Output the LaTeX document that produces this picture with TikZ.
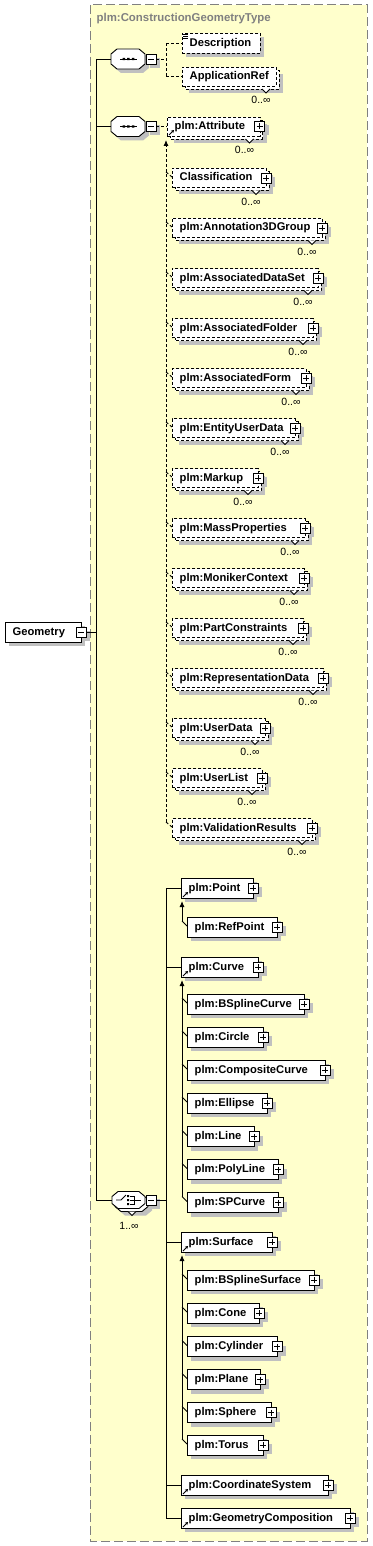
\documentclass[tikz,border=0pt]{standalone}
\usepackage{fontspec}
\setmainfont{Liberation Sans}
\usetikzlibrary{arrows.meta}
\definecolor{bgY}{RGB}{255,255,204}
\definecolor{shdG}{RGB}{192,192,192}
\definecolor{frG}{RGB}{128,128,128}
\pgfdeclarelayer{frame}
\pgfdeclarelayer{shadow}
\pgfdeclarelayer{lines}
\pgfsetlayers{frame,shadow,lines,main}
\tikzset{
 ebox/.style={draw=black, fill=white, line width=0.9pt, inner sep=0pt, minimum height=20pt},
 edash/.style={dash pattern=on 3pt off 2pt},
 esolid/.style={solid},
 etext/.style={font=\bfseries\fontsize{11.2}{12}\selectfont, inner sep=0pt, text height=8.5pt, text depth=2.5pt},
 mult/.style={font=\fontsize{10.5}{11}\selectfont, inner sep=0pt},
 pbox/.style={draw=black, fill=white, line width=0.8pt, minimum size=10pt, inner sep=0pt},
 conn/.style={line width=0.9pt},
 dconn/.style={line width=0.9pt, dash pattern=on 3pt off 2pt},
 subarr/.style={-{Latex[length=6pt,width=5pt]}},
}
% single element box
\newcommand{\elemS}[6]{%
 \begin{pgfonlayer}{shadow}\fill[shdG] (#2+4,#3-6) rectangle (#4+4,#3+14);\end{pgfonlayer}
 \node[ebox,#6,minimum width={#4-#2},anchor=west] (#1) at (#2,#3) {};
 \node[etext,anchor=west] (#1-t) at (#2+7.5,#3) {#5};}
% stacked (0..inf) dashed element box
\newcommand{\elemM}[5]{%
 \begin{pgfonlayer}{shadow}\fill[shdG] (#2+7,#3-2.5) rectangle (#4+7,#3+16.5);\end{pgfonlayer}
 \draw[edash, line width=0.9pt, fill=white] (#2+3,#3-6.5) rectangle (#4+3,#3+12.5);
 \node[ebox,edash,minimum width={#4-#2},minimum height=19pt,anchor=west] (#1) at (#2,#3) {};
 \node[etext,anchor=west] (#1-t) at (#2+7.5,#3) {#5};
 \draw[line width=0.8pt, fill=white] (#4-14,#3+12.5) -- (#4-10,#3+16.5) -- (#4-6,#3+12.5);
 \node[mult] (#1-m) at (#4-15,#3+23.5) {0..∞};}
\newcommand{\plusb}[3]{%
 \begin{pgfonlayer}{shadow}\fill[shdG] (#2-1,#3-1) rectangle (#2+9,#3+9);\end{pgfonlayer}
 \node[pbox] (#1) at (#2,#3) {};
 \draw[line width=0.8pt] (#2-3,#3) -- (#2+3,#3) (#2,#3-3) -- (#2,#3+3);}
\newcommand{\minusb}[3]{%
 \begin{pgfonlayer}{shadow}\fill[shdG] (#2-1,#3-1) rectangle (#2+9,#3+9);\end{pgfonlayer}
 \node[pbox] (#1) at (#2,#3) {};
 \draw[line width=0.8pt] (#2-3,#3) -- (#2+3,#3);}
\newcommand{\refm}[2]{%
 \draw[line width=1pt,-{Stealth[length=3pt,width=3.5pt]}] (#1+2,#2-1) -- (#1+7,#2-6);}
\newcommand{\octP}[5]{\path[#5] (#1,#2-#4/2+5) -- (#1+6,#2-#4/2) -- (#1+#3-6,#2-#4/2) -- (#1+#3,#2-#4/2+5) -- (#1+#3,#2+#4/2-5) -- (#1+#3-6,#2+#4/2) -- (#1+6,#2+#4/2) -- (#1,#2+#4/2-5) -- cycle;}
\newcommand{\seqn}[3]{%
 \begin{pgfonlayer}{shadow}\octP{#2+4}{#3+4}{34}{20}{fill=shdG}\end{pgfonlayer}
 \octP{#2}{#3}{34}{20}{draw,fill=white,line width=0.9pt}
 \node[inner sep=0pt,minimum width=34pt,minimum height=20pt] (#1) at (#2+17,#3) {};
 \draw[line width=0.9pt] (#2+9,#3) -- (#2+26,#3);
 \fill (#2+11.5,#3-1.2) rectangle +(2.5,2.4) (#2+16.2,#3-1.2) rectangle +(2.5,2.4) (#2+20.9,#3-1.2) rectangle +(2.5,2.4);
 \minusb{#1-m}{#2+40}{#3}}
\begin{document}
\begin{tikzpicture}[x=1pt,y=-1pt]
\useasboundingbox (0,0) rectangle (372,1546);
\begin{pgfonlayer}{frame}
\draw[frG, dash pattern=on 9pt off 4pt, fill=bgY, line width=1pt] (90,5) rectangle (367,1541);
\end{pgfonlayer}
\node[font=\bfseries\fontsize{11.4}{12}\selectfont, text=frG, anchor=west, inner sep=0pt] (title) at (96.5,19) {plm:ConstructionGeometryType};

% root
\elemS{geo}{5}{632}{81}{Geometry}{esolid}
\minusb{geo-m}{81}{632}

% sequences
\seqn{seq1}{111}{59}
\seqn{seq2}{111}{126.5}

% choice
\begin{pgfonlayer}{shadow}\octP{119}{1207}{33}{17}{fill=shdG}\end{pgfonlayer}
\octP{115}{1203}{33}{17}{draw,fill=white,line width=0.9pt}
\octP{112}{1200}{33}{17}{draw,fill=white,line width=0.9pt}
\draw[line width=0.8pt, fill=white] (128,1211.5) -- (132,1215.5) -- (136,1211.5);
\node[inner sep=0pt,minimum width=33pt,minimum height=17pt] (cho) at (128.5,1200) {};
\draw[line width=0.9pt] (116,1200) -- (121,1200) -- (126,1195);
\fill (127,1195) rectangle +(2,2) (127,1199) rectangle +(2,2) (127,1203) rectangle +(2,2);
\draw[line width=0.9pt] (130,1196) -- (134,1196) -- (134,1204) -- (130,1204) (130,1200) -- (141,1200);
\minusb{cho-m}{151}{1200}
\node[mult] (cho-n) at (129,1226) {1..∞};

% sequence 1 children
\elemS{desc}{182}{43.5}{260}{Description}{edash}
\draw[line width=0.7pt] (183,34)--(188,34) (183,36)--(188,36) (183,38)--(188,38);
\elemM{appref}{182}{76.5}{276}{ApplicationRef}

% sequence 2 children
\elemM{attr}{167}{126.5}{259.5}{plm:Attribute}
\plusb{attr-p}{259.5}{126.5}
\refm{167}{136}
\foreach \n/\y/\r/\t in {cls/178/266/Classification, ann/228/322/plm:Annotation3DGroup, ads/278/318/plm:AssociatedDataSet, afo/328/313/plm:AssociatedFolder, afm/378/306/plm:AssociatedForm, eud/428/295/plm:EntityUserData, mkp/478/258/plm:Markup, mpr/528/305/plm:MassProperties, mco/578/304/plm:MonikerContext, pco/628/303/plm:PartConstraints, rda/678/323/plm:RepresentationData, uda/728/265/plm:UserData, uli/778/262/plm:UserList, vre/828/312/plm:ValidationResults}{
 \elemM{\n}{172}{\y}{\r}{\t}
 \plusb{\n-p}{\r}{\y}
 \begin{pgfonlayer}{lines}\draw[dconn] (166,\y-6) -- ([yshift=1pt]\n.west);\end{pgfonlayer}
}

% choice children
\elemS{pt}{181}{888}{253}{plm:Point}{esolid}\plusb{pt-p}{253}{888}\refm{181}{898}
\elemS{rpt}{187}{927}{277}{plm:RefPoint}{esolid}\plusb{rpt-p}{277}{927}
\elemS{cur}{181}{967}{258}{plm:Curve}{esolid}\plusb{cur-p}{258}{967}\refm{181}{977}
\foreach \n/\y/\r/\t in {bsc/1004/304/plm:BSplineCurve, cir/1037/263/plm:Circle, ccu/1070/325/plm:CompositeCurve, ell/1103/267/plm:Ellipse, lin/1136.5/254/plm:Line, pln/1169.5/278/plm:PolyLine, spc/1202.5/278/plm:SPCurve, bss/1280/314/plm:BSplineSurface, con/1313/259/plm:Cone, cyl/1346.5/277/plm:Cylinder, pla/1379.5/260/plm:Plane, sph/1412.5/271/plm:Sphere, tor/1445/263/plm:Torus}{
 \elemS{\n}{187}{\y}{\r}{\t}{esolid}
 \plusb{\n-p}{\r}{\y}
 \begin{pgfonlayer}{lines}\draw[conn] (182,\y-6) -- ([yshift=1pt]\n.west);\end{pgfonlayer}
}
\elemS{sur}{181}{1242}{272}{plm:Surface}{esolid}\plusb{sur-p}{272}{1242}\refm{181}{1252}
\elemS{cs}{181}{1485}{328}{plm:CoordinateSystem}{esolid}\plusb{cs-p}{328}{1485}\refm{181}{1495}
\elemS{gc}{181}{1518}{350}{plm:GeometryComposition}{esolid}\plusb{gc-p}{350}{1518}\refm{181}{1528}

% connectors
\begin{pgfonlayer}{lines}
\coordinate (tkT) at (96,59);
\coordinate (tkB) at (96,1200);
\draw[conn] (tkT) -- (tkB);
\draw[conn] (tkT) -- (seq1.west);
\draw[conn] (seq2.west -| tkT) -- (seq2.west);
\draw[conn] (geo-m.east) -- (geo-m.east -| tkT);
\draw[conn] (tkB) -- (cho.west);
% seq1 fan
\coordinate (s1a) at (166,43.5);
\coordinate (s1b) at (166,76.5);
\draw[dconn] (seq1-m.east) -- (seq1-m.east -| s1a);
\draw[dconn] (s1a) -- (s1b);
\draw[dconn] (s1a) -- (desc.west);
\draw[dconn] (s1b) -- (appref.west);
% seq2
\draw[dconn] (seq2-m.east) -- (attr.west);
\coordinate (saT) at (166,140);
\coordinate (saB) at (166,822);
\draw[dconn,subarr] (saB) -- (saT);
% choice fan
\coordinate (chA) at (166,888);
\coordinate (chZ) at (166,1518);
\draw[conn] (cho-m.east) -- (cho-m.east -| chA);
\draw[conn] (chA) -- (chZ);
\foreach \h in {pt,cur,sur,cs,gc}{\draw[conn] (\h.west -| chA) -- (\h.west);}
% substitution groups
\coordinate (pA) at (182,901); \coordinate (pB) at (182,921);
\draw[conn,subarr] (pB) -- (pA);
\draw[conn] (pB) -- ([yshift=1pt]rpt.west);
\coordinate (cA) at (182,980); \coordinate (cB) at (182,1196.5);
\draw[conn,subarr] (cB) -- (cA);
\coordinate (sA) at (182,1255); \coordinate (sB) at (182,1439);
\draw[conn,subarr] (sB) -- (sA);
\end{pgfonlayer}
\end{tikzpicture}
\end{document}
